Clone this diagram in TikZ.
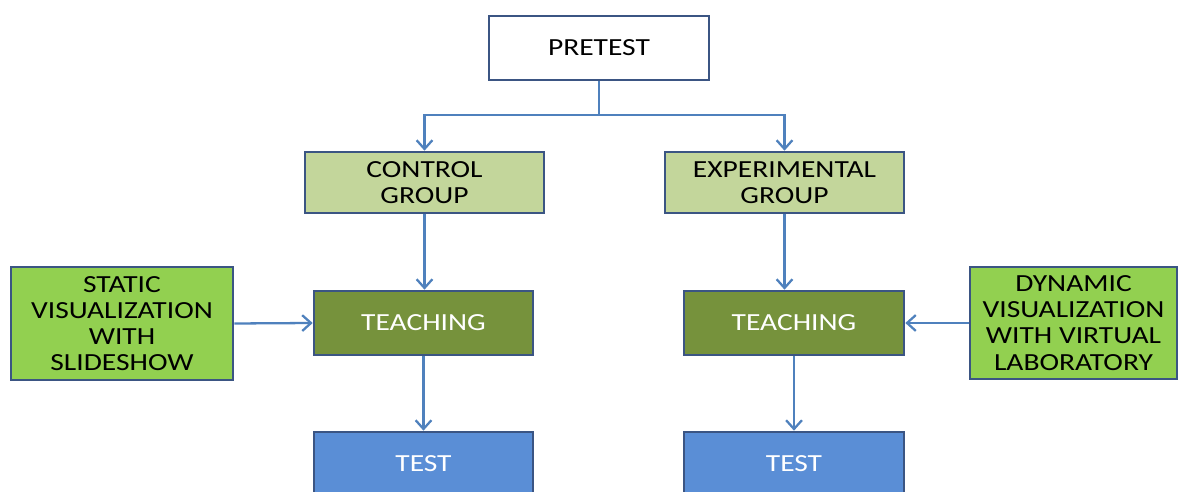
\documentclass[tikz,border=0pt]{standalone}
\usepackage{fontspec}
\setmainfont{Carlito}[FakeStretch=1.2]
\usetikzlibrary{arrows.meta}
\usetikzlibrary{positioning}
\definecolor{mframe}{HTML}{3B5583}
\definecolor{mline}{HTML}{4F81BD}
\definecolor{mpale}{HTML}{C3D69B}
\definecolor{molive}{HTML}{76923C}
\definecolor{mgreen}{HTML}{92D050}
\definecolor{mblue}{HTML}{5A8ED6}
\tikzset{box/.style = {draw=mframe, line width=1.5pt, align=center,
                       font=\fontsize{14}{14.9}\selectfont},
         arr/.style = {draw=mline, line width=1.3pt,
                       -{Straight Barb[length=5pt, width=9pt]}}}

\begin{document}
\begin{tikzpicture}[x=0.02cm, y=-0.02cm]
      \useasboundingbox (0, 0) rectangle (1179, 492);

      \node [box, fill=white, minimum width=4.4cm, minimum height=1.28cm] (pre) at (599, 48) {PRETEST};
      \node [box, fill=mpale, minimum width=4.78cm, minimum height=1.22cm] (ctrl) at (424.5, 182.5) {CONTROL\\GROUP};
      \node [box, fill=mpale, minimum width=4.78cm, minimum height=1.22cm] (expt) at (784.5, 182.5) {EXPERIMENTAL\\GROUP};

      \node [box, fill=molive, text=white, minimum width=4.38cm, minimum height=1.28cm] (teachl) at (423.5, 323) {TEACHING};
      \node [box, fill=molive, text=white, minimum width=4.4cm, minimum height=1.28cm] (teachr) at (794, 323) {TEACHING};
      \node [box, fill=mgreen, minimum width=4.44cm, minimum height=2.26cm] (stat) at (122, 323.5) {STATIC\\VISUALIZATION\\WITH\\SLIDESHOW};
      \node [box, fill=mgreen, minimum width=4.14cm, minimum height=2.24cm] (dyn) at (1073.5, 323) {DYNAMIC\\VISUALIZATION\\WITH VIRTUAL\\LABORATORY};

      \node [box, fill=mblue, text=white, minimum width=4.38cm, minimum height=1.28cm] (testl) at (423.5, 464) {TEST};
      \node [box, fill=mblue, text=white, minimum width=4.4cm, minimum height=1.28cm] (testr) at (794, 464) {TEST};

      \coordinate (split) at (599, 115);
      \draw [draw=mline, line width=1.3pt] (pre.south) -- (split);
      \draw [arr] (split) -| (ctrl.north);
      \draw [arr] (split) -| (expt.north);

      \draw [arr] (ctrl.south) -- (ctrl.south |- teachl.north);
      \draw [arr] (expt.south) -- (expt.south |- teachr.north);
      \draw [arr] (stat.east) -- (teachl.west);
      \draw [arr] (dyn.west) -- (teachr.east);
      \draw [arr] (teachl.south) -- (testl.north);
      \draw [arr] (teachr.south) -- (testr.north);
    \end{tikzpicture}
\end{document}
